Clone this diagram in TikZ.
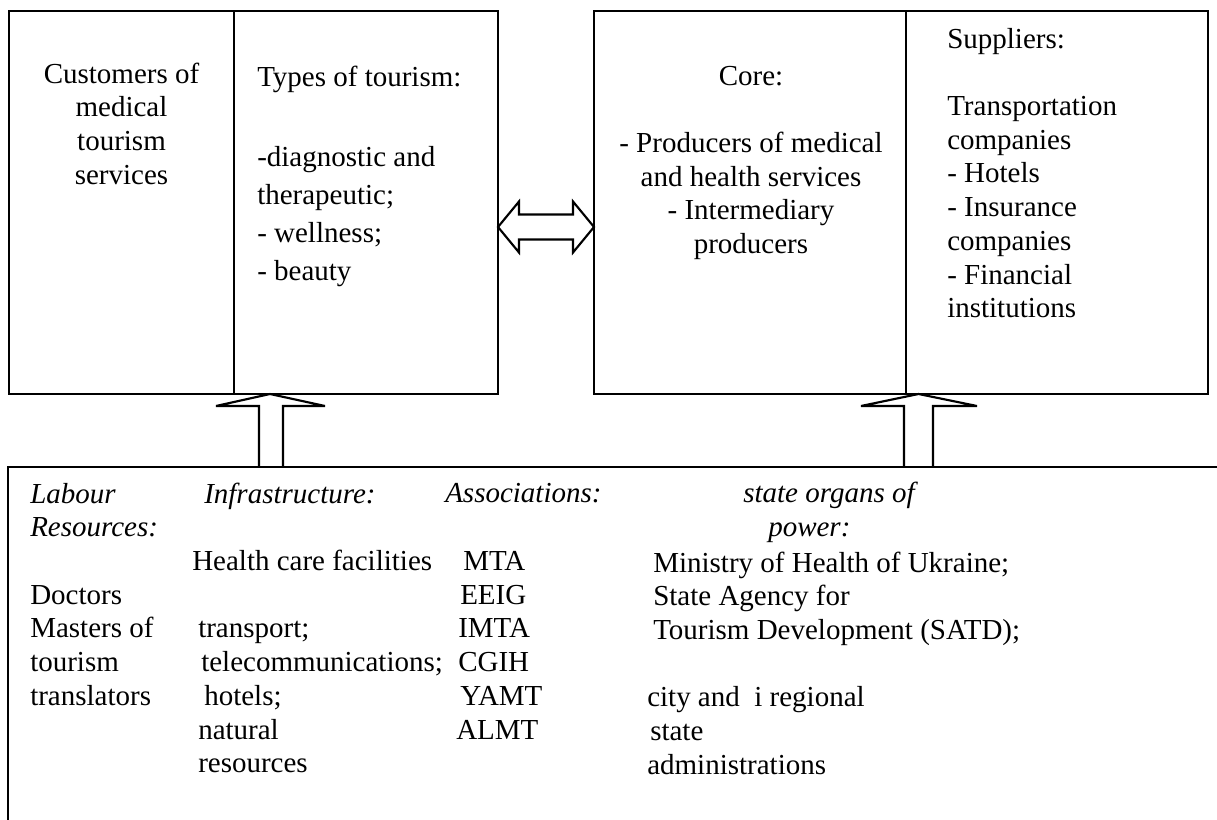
\documentclass[tikz,border=0pt]{standalone}
\usepackage{fontspec}
\setmainfont{Liberation Serif}

\begin{document}
\begin{tikzpicture}[x=0.75pt,y=0.75pt,yscale=-1,xscale=1,
    txt/.style={inner sep=0pt,font=\fontsize{21.75pt}{25.3pt}\selectfont},
    frame/.style={line width=1.6pt,miter limit=3}]
\useasboundingbox (0,0) rectangle (1217,820);
% upper boxes
\draw [frame] (9,11) rectangle (498,394) (234,11) -- (234,394);
\draw [frame] (594,11) rectangle (1208,394) (906,11) -- (906,394);
% lower box, open on the right and at the bottom
\draw [frame] (8,820) -- (8,467) -- (1217,467);
% block arrows
\draw [frame] (498,227) -- (519,201.5) -- (519,214.5) -- (573,214.5) -- (573,201.5) -- (594,227) -- (573,252.5) -- (573,239.5) -- (519,239.5) -- (519,252.5) -- cycle;
\draw [frame] (259,467) -- (259,406) -- (216,406) -- (270,394) -- (325,406) -- (283,406) -- (283,467);
\draw [frame] (904,467) -- (904,406) -- (861,406) -- (918.5,394) -- (977,406) -- (933,406) -- (933,467);
% upper texts (multi-line nodes sit on the baseline of their last line)
\draw (121.5,184.2) node (cust) [txt,anchor=base,align=center] {Customers of\\medical\\tourism\\services};
\draw (257,87) node (types) [txt,anchor=base west] {Types of tourism:};
\draw (257,280) node (kinds) [txt,anchor=base west,align=left,font=\fontsize{21.75pt}{28.5pt}\selectfont] {-diagnostic and\\therapeutic;\\- wellness;\\- beauty};
\draw (751,253.7) node (core) [txt,anchor=base,align=center] {Core:\\\mbox{}\\- Producers of medical\\and health services\\- Intermediary\\producers};
\draw (947,317.9) node (suppl) [txt,anchor=base west,align=left] {Suppliers:\\\mbox{}\\Transportation\\companies\\- Hotels\\- Insurance\\companies\\- Financial\\institutions};
% lower texts
\draw (30,705.4) node (labour) [txt,anchor=base west,align=left] {\textit{Labour}\\\textit{Resources:}\\\mbox{}\\Doctors\\Masters of\\tourism\\translators};
\draw (198,772.9) node (infra) [txt,anchor=base west,align=left] {\hspace*{4.5pt}\textit{Infrastructure:}\\\mbox{}\\\hspace*{-4.5pt}Health care facilities\\\mbox{}\\transport;\\\hspace*{2.25pt}telecommunications;\\\hspace*{4.5pt}hotels;\\natural\\resources};
\draw (458,739.1) node (assoc) [txt,anchor=base west,align=left] {\hspace*{-9.75pt}\textit{Associations:}\\\mbox{}\\\hspace*{3.75pt}MTA\\\hspace*{1.5pt}EEIG\\IMTA\\CGIH\\\hspace*{1.5pt}YAMT\\\hspace*{-1.5pt}ALMT};
\draw (743,536.7) node (organs) [txt,anchor=base west,align=left] {\textit{state organs of}\\\hspace*{18.75pt}\textit{power:}};
\draw (653,774.4) node (minis) [txt,anchor=base west,align=left] {Ministry of Health of Ukraine;\\State Agency for\\Tourism Development (SATD);\\\mbox{}\\\hspace*{-4.5pt}city and\ \ i regional\\\hspace*{-2.25pt}state\\\hspace*{-4.5pt}administrations};
\end{tikzpicture}
\end{document}
